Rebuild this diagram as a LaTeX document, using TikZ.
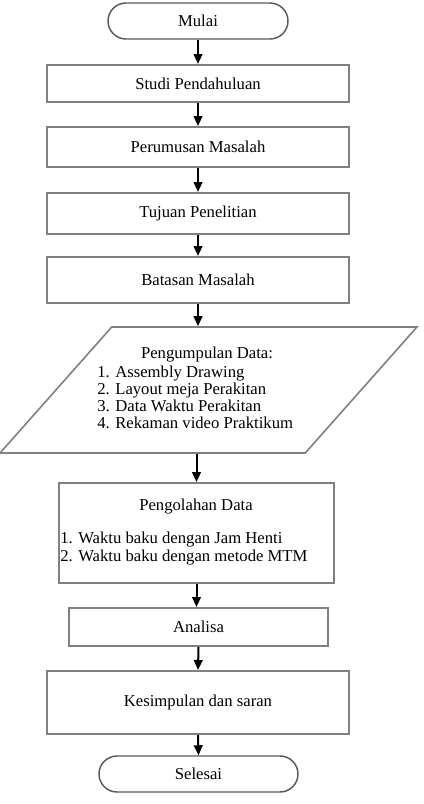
\documentclass[tikz,border=0pt]{standalone}
\usepackage{fontspec}
\setmainfont{Liberation Serif}
\usetikzlibrary{arrows.meta,shapes.geometric}
\begin{document}
\begin{tikzpicture}[x=0.75pt, y=-0.75pt,
    every node/.style={font=\fontsize{12.5}{12.75}\selectfont},
    box/.style={draw=gray, line width=1.5pt, inner sep=0pt, minimum width=226.5pt},
    terminal/.style={draw=black!65, line width=1.1pt, rounded corners=13.5pt, inner sep=0pt, minimum height=27pt},
    teks/.style={inner sep=0pt},
    panah/.style={line width=1.5pt, -{Triangle[width=6.5pt,length=7.5pt]}}]
    \useasboundingbox (0,0) rectangle (424,804);
    \node[terminal, minimum width=135pt] (mulai) at (198,21) {Mulai};
    \node[box, minimum height=27.75pt] (studi) at (198,83.5) {Studi Pendahuluan};
    \node[box, minimum height=30pt] (rumusan) at (198,147) {Perumusan Masalah};
    \node[box, minimum height=30.75pt] (tujuan) at (198,213.5) {Tujuan Penelitian};
    \node[box, minimum height=34.5pt] (batasan) at (198,280) {Batasan Masalah};
    % input data
    \node[trapezium, trapezium left angle=60, trapezium right angle=120, trapezium stretches=true,
        draw=gray, line width=1.2pt, minimum width=312.75pt, minimum height=94.5pt] (kumpul) at (208.5,390) {};
    \node[teks] (kumpuljudul) at (207,355) {Pengumpulan Data:};
    \node[teks, align=left, anchor=west] (kumpulisi) at (97,397.5)
        {1. Assembly Drawing\\2. Layout meja Perakitan\\3. Data Waktu Perakitan\\4. Rekaman video Praktikum};
    % pengolahan
    \node[box, minimum width=206.25pt, minimum height=75pt] (olah) at (196.5,533) {};
    \node[teks] (olahjudul) at (196,507) {Pengolahan Data};
    \node[teks, align=left, anchor=west, font=\fontsize{12.5}{13.5}\selectfont] (olahisi) at (60,549)
        {1. Waktu baku dengan Jam Henti\\2. Waktu baku dengan metode MTM};
    \node[box, minimum width=194.25pt, minimum height=28.5pt] (analisa) at (198.5,627) {Analisa};
    \node[box, minimum height=47.25pt] (simpul) at (198,702.5) {Kesimpulan dan saran};
    \node[terminal, minimum width=149.25pt] (selesai) at (198.5,774) {Selesai};
    \node[teks, anchor=base, font=\bfseries\fontsize{15}{18}\selectfont] (judul) at (197,819)
        {Gambar 3.1 Flow Chart Penelitian};
    % panah
    \foreach \a/\b in {mulai/studi, studi/rumusan, rumusan/tujuan, tujuan/batasan, analisa/simpul, simpul/selesai}
        \draw[panah] (\a.south) -- (\b.north);
    \draw[panah] (batasan.south) -- (batasan.south |- kumpul.north);
    \draw[panah] (olah.north |- kumpul.south) -- (olah.north);
    \draw[panah] (olah.south) -- (olah.south |- analisa.north);
\end{tikzpicture}
\end{document}
